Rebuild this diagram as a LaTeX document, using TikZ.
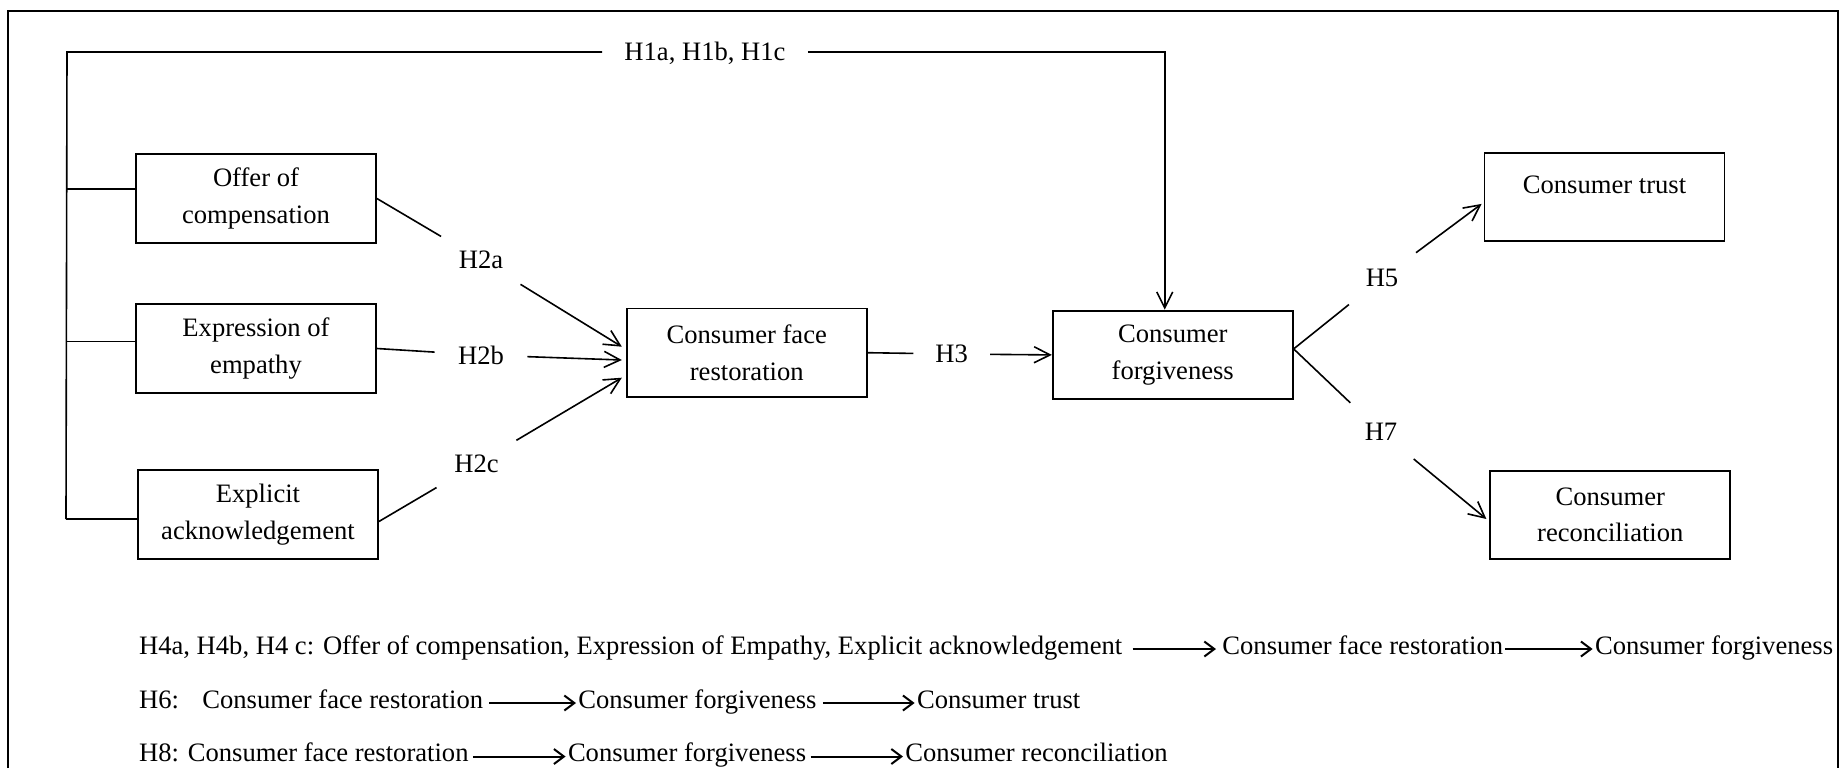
\documentclass[tikz,border=0pt]{standalone}
\usepackage{fontspec}
\setmainfont{Liberation Serif}
\usetikzlibrary{arrows.meta,calc}
\begin{document}
\begin{tikzpicture}[x=0.5pt,y=-0.5pt,
  every node/.style={font=\fontsize{13.3}{18.3}\selectfont},
  box/.style={draw,line width=0.9pt,inner sep=0pt,align=center,minimum width=120pt,minimum height=44.3pt},
  lab/.style={circle,inner sep=0pt,minimum size=46pt},
  conn/.style={line width=0.8pt},
  arr/.style={conn,-{Straight Barb[length=8pt,width=8pt]}},
  txt/.style={anchor=base west,inner sep=0pt},
  longarr/.style={line width=1pt,-{Straight Barb[length=5pt,width=7.5pt]}},
]
\useasboundingbox (0,0) rectangle (1843,768);
\draw[line width=1pt] (8,768) -- (8,11) -- (1838,11) -- (1838,768);

% boxes
\node[box] (offer) at (256,198.5) {Offer of\\compensation};
\node[box] (emp) at (256,348.5) {Expression of\\empathy};
\node[box] (ack) at (258,514.5) {Explicit\\acknowledgement};
\node[box] (face) at (746.75,352.7) {Consumer face\\restoration};
\node[box] (forg) at (1172.75,354.9) {Consumer\\forgiveness};
\node[box] (trust) at (1604.5,196.9) {};
\node (trusttxt) at (1604.5,185) {Consumer trust};
\node[box] (recon) at (1610.3,515) {Consumer\\reconciliation};

% labels
\node[lab] (h2a) at (481,260) {H2a};
\node[lab] (h2b) at (481,355) {H2b};
\node[lab] (h2c) at (476.5,464) {H2c};
\node[lab,minimum size=38pt] (h3) at (951.7,354) {H3};
\node[lab,minimum size=42pt] (h5) at (1382,278) {H5};
\node[lab,minimum size=42pt] (h7) at (1381,432) {H7};
\node[inner xsep=11pt,inner ysep=0pt] (h1) at (705,53) {H1a, H1b, H1c};

% left bus and H1 path
\coordinate (bt) at (67,52);
\coordinate (bb) at (66,519);
\coordinate (b1) at (66.5,189);
\coordinate (b2) at (66.5,341.5);
\draw[conn] (bb) -- (bt) -- (h1.west |- bt);
\draw[arr] (h1.east |- bt) -| ([xshift=-4pt]forg.north);
\draw[conn] (b1) -- (b1 -| offer.west);
\draw[conn] (b2) -- (b2 -| emp.west);
\draw[conn] (bb) -- (bb -| ack.west);

% H2
\draw[conn] (offer.east) -- (h2a);
\draw[arr] (h2a) -- ([yshift=3pt,xshift=-2pt]face.west);
\draw[conn] (emp.east) -- (h2b);
\draw[arr] (h2b) -- ([yshift=-3.65pt,xshift=-2pt]face.west);
\draw[conn] ([yshift=-3.5pt]ack.east) -- (h2c);
\draw[arr] (h2c) -- ([yshift=-12.5pt,xshift=-2pt]face.west);
% H3
\draw[conn] (face.east) -- (h3);
\draw[arr] (h3) -- (forg.west);
% H5, H7
\draw[conn] ([yshift=3pt]forg.east) -- (h5);
\draw[arr] (h5) -- ([yshift=-3.5pt,xshift=-1pt]trust.west);
\draw[conn] ([yshift=3pt]forg.east) -- (h7);
\draw[arr] (h7) -- ([yshift=-2pt,xshift=-1.5pt]recon.west);

% bottom text
\node[txt] (l1a) at (138.7,654) {H4a, H4b, H4 c: Offer of compensation, Expression of Empathy, Explicit acknowledgement};
\node[txt] (l1b) at (1222,654) {Consumer face restoration};
\node[txt] (l1c) at (1594.6,654) {Consumer forgiveness};
\draw[longarr] ([xshift=5pt,yshift=2.5pt]l1a.base east) -- ([xshift=-3pt,yshift=2.5pt]l1b.base west);
\draw[longarr] ([xshift=1pt,yshift=2.5pt]l1b.base east) -- ([xshift=-1pt,yshift=2.5pt]l1c.base west);

\node[txt] (l2h) at (138.7,708) {H6:};
\node[txt] (l2a) at (202,708) {Consumer face restoration};
\node[txt] (l2b) at (578,708) {Consumer forgiveness};
\node[txt] (l2c) at (916.6,708) {Consumer trust};
\draw[longarr] ([xshift=3pt,yshift=2.5pt]l2a.base east) -- ([xshift=-1pt,yshift=2.5pt]l2b.base west);
\draw[longarr] ([xshift=3pt,yshift=2.5pt]l2b.base east) -- ([xshift=-1pt,yshift=2.5pt]l2c.base west);

\node[txt] (l3a) at (138.7,761.5) {H8: Consumer face restoration};
\node[txt] (l3b) at (567.6,761.5) {Consumer forgiveness};
\node[txt] (l3c) at (905,761.5) {Consumer reconciliation};
\draw[longarr] ([xshift=2pt,yshift=2.5pt]l3a.base east) -- ([xshift=-1pt,yshift=2.5pt]l3b.base west);
\draw[longarr] ([xshift=2pt,yshift=2.5pt]l3b.base east) -- ([xshift=-1pt,yshift=2.5pt]l3c.base west);
\end{tikzpicture}
\end{document}
